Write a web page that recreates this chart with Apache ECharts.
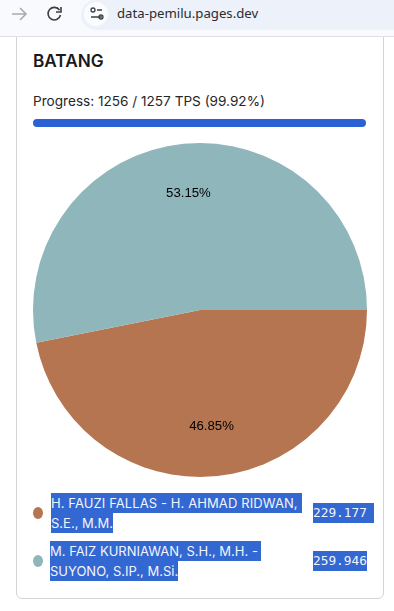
<!DOCTYPE html>
<html>
<head>
<meta charset="utf-8">
<title>BATANG</title>
<script src="https://cdn.jsdelivr.net/npm/echarts@6/dist/echarts.min.js"></script>
<style>
  html, body { margin: 0; padding: 0; background: #fff; }
  body { position: relative; width: 394px; height: 611px; overflow: hidden; font-family: Inter, "Noto Sans", sans-serif; }
  .abs { position: absolute; white-space: nowrap; }
  .browser-bar { left: 0; top: 0; width: 394px; height: 36px; background: #f9fafd; border-bottom: 1px solid #dfe1e5; }
  .url-pill { left: 81px; top: 0; width: 330px; height: 30px; border-radius: 15px; background: #edf1fa; }
  .url-icon { left: 84px; top: 2px; width: 24px; height: 24px; border-radius: 12px; background: #fbfcfe; }
  .url-text { left: 117px; top: 3px; font-size: 13.2px; line-height: 20px; color: #2a2c30; font-family: "Noto Sans", sans-serif; }
  .card { left: 16px; top: 20px; width: 366px; height: 577px; border: 1px solid #d4d4d6; border-radius: 6px; background: #fff; box-sizing: content-box; }
  .title { left: 33px; top: 50px; font-size: 17.2px; line-height: 22px; font-weight: 600; color: #1a1a1c; }
  .progress { left: 33px; top: 92px; font-size: 13.6px; line-height: 18px; color: #26262a; }
  .bar { left: 33px; top: 119px; width: 333px; height: 8px; border-radius: 4px; background: #2a62d6; }
  #chart { position: absolute; left: 23px; top: 133px; width: 354px; height: 354px; }
  .dot { width: 10px; height: 12px; border-radius: 50%; }
  .sel { background: #3367d1; color: #f2f5fb; font-size: 13px; line-height: 20px; font-family: Inter, "Liberation Sans", Arial, sans-serif; }
  /* baris pertama: spasi di akhir baris ikut terseleksi */
  .sel.first { padding-right: 3px; }
  .sel.wide { letter-spacing: 0.1px; padding-right: 4px; }
  .val { background: #3367d1; color: #f2f5fb; font-size: 12.8px; line-height: 20px; font-family: "DejaVu Sans Mono", monospace; }
</style>
</head>
<body>
<div class="abs card"></div>
<div class="abs browser-bar"></div>
<div class="abs url-pill"></div>
<div class="abs url-icon"></div>
<div class="abs url-text">data-pemilu.pages.dev</div>
<svg class="abs" style="left:0;top:0" width="112" height="30" fill="none">
  <path d="M12 14h14M20 8l6 6-6 6" stroke="#a9abb0" stroke-width="1.6"/>
  <path d="M59.5 10a6.3 6.3 0 1 0 1 5" stroke="#3c4043" stroke-width="1.6"/>
  <path d="M61 7v5h-5" stroke="#3c4043" stroke-width="1.6"/>
  <circle cx="93" cy="10" r="2" stroke="#3c4043" stroke-width="1.3"/>
  <path d="M91 17h11M97 10h5" stroke="#3c4043" stroke-width="1.3"/>
  <circle cx="101" cy="17" r="2" stroke="#3c4043" stroke-width="1.3"/>
</svg>
<div class="abs title" id="title"></div>
<div class="abs progress" id="progress"></div>
<div class="abs bar"></div>
<div id="chart"></div>
<div id="legend"></div>
<script>
const regionName = 'BATANG'
const progressText = 'Progress: 1256 / 1257 TPS (99.92%)'
const candidates = ['H. FAUZI FALLAS - H. AHMAD RIDWAN, S.E., M.M.', 'M. FAIZ KURNIAWAN, S.H., M.H. - SUYONO, S.IP., M.SI.']
const legendLines = [['H. FAUZI FALLAS - H. AHMAD RIDWAN,', 'S.E., M.M.'], ['M. FAIZ KURNIAWAN, S.H., M.H. -', 'SUYONO, S.IP., M.Si.']]
const votes = [229177, 259946]
const voteLabels = ['229.177', '259.946']
const sliceColors = ['#b57551', '#8fb6bb']

document.getElementById('title').textContent = regionName
document.getElementById('progress').textContent = progressText

// legend di bawah chart
const legendTops = [493, 541]
const legendBox = document.getElementById('legend')
legendLines.forEach((lines, i) => {
  const top = legendTops[i]
  let html = `<div class="abs dot" style="left:33px;top:${top + 20 - 6}px;background:${sliceColors[i]}"></div>`
  lines.forEach((line, j) => {
    const cls = j === 0 ? (i === 0 ? 'sel wide' : 'sel first') : 'sel'
    html += `<div class="abs ${cls}" style="left:${i === 0 ? 51 : 50}px;top:${top + j * 20}px">${line}</div>`
  })
  html += `<div class="abs val" style="left:313px;top:${top + 10}px;padding-right:${i === 0 ? 7 : 0}px">${voteLabels[i]}</div>`
  legendBox.insertAdjacentHTML('beforeend', html)
})

const chart = echarts.init(document.getElementById('chart'), null, { renderer: 'canvas' })
const sliceData = candidates.map((name, i) => ({ name, value: votes[i], itemStyle: { color: sliceColors[i] } }))

chart.setOption({
  animation: false,
  series: [
    {
      type: 'pie',
      center: [177, 177],
      radius: [0, 167],
      startAngle: 0,
      clockwise: true,
      data: sliceData,
      label: { show: false },
      labelLine: { show: false },
      silent: true
    },
    {
      // seri transparan, hanya untuk posisi label persen
      type: 'pie',
      center: [177, 177],
      radius: [61, 167],
      startAngle: 0,
      clockwise: true,
      data: candidates.map((name, i) => ({ name, value: votes[i] })),
      itemStyle: { color: 'transparent' },
      label: {
        show: true,
        position: 'inside',
        rotate: 0,
        color: '#000',
        fontSize: 13.2,
        fontFamily: '"Liberation Sans", Arial, sans-serif',
        formatter: (p) => p.percent.toFixed(2) + '%'
      },
      labelLine: { show: false },
      silent: true
    }
  ]
})
</script>
</body>
</html>
